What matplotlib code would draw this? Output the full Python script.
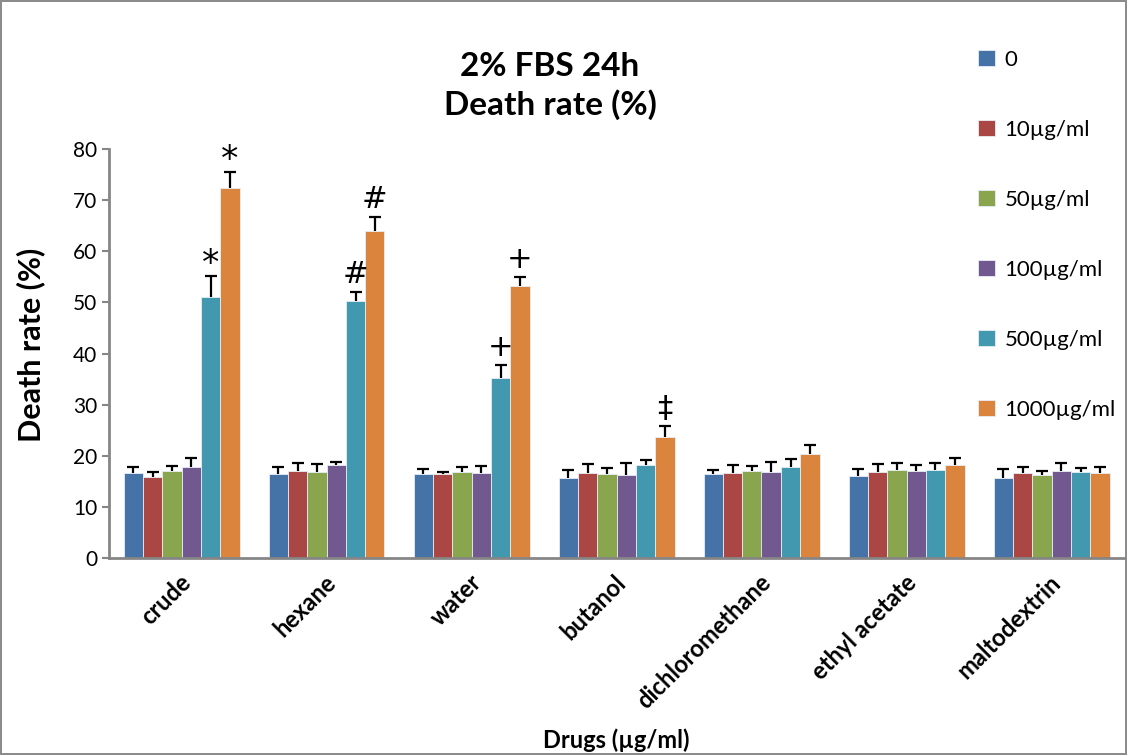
import numpy as np
import matplotlib
matplotlib.use("Agg")
import matplotlib.pyplot as plt

plt.rcParams['font.family'] = ['Lato', 'DejaVu Sans']

# Data
drugs = ["crude", "hexane", "water", "butanol", "dichloromethane", "ethyl acetate", "maltodextrin"]
doses = ["0", "10µg/ml", "50µg/ml", "100µg/ml", "500µg/ml", "1000µg/ml"]
colors = ["#4572A7", "#AA4643", "#89A54E", "#71588F", "#4198AF", "#DB843D"]

# mean death rate (%) per dose, one list per dose, in drug order
dose_0 = [16.6, 16.4, 16.4, 15.7, 16.4, 16.0, 15.7]
dose_10 = [15.8, 17.0, 16.4, 16.6, 16.6, 16.8, 16.6]
dose_50 = [17.0, 16.8, 16.8, 16.4, 17.0, 17.2, 16.2]
dose_100 = [17.8, 18.2, 16.6, 16.2, 16.8, 17.0, 17.0]
dose_500 = [51.1, 50.3, 35.2, 18.2, 17.8, 17.2, 16.8]
dose_1000 = [72.4, 64.0, 53.2, 23.7, 20.3, 18.2, 16.6]

# upper error (SD)
err_0 = [1.2, 1.4, 1.0, 1.5, 0.8, 1.4, 1.7]
err_10 = [1.0, 1.6, 0.4, 1.8, 1.6, 1.6, 1.2]
err_50 = [1.0, 1.6, 1.0, 1.2, 1.0, 1.4, 0.8]
err_100 = [1.8, 0.6, 1.4, 2.4, 2.0, 1.2, 1.6]
err_500 = [4.1, 1.8, 2.6, 1.0, 1.6, 1.4, 0.8]
err_1000 = [3.1, 2.7, 1.8, 2.1, 1.8, 1.4, 1.2]

means = [dose_0, dose_10, dose_50, dose_100, dose_500, dose_1000]
errors = [err_0, err_10, err_50, err_100, err_500, err_1000]

# significance marks: (drug index, dose index, symbol)
marks = [(0, 4, "*"), (0, 5, "*"), (1, 4, "#"), (1, 5, "#"),
         (2, 4, "+"), (2, 5, "+"), (3, 5, "‡")]
# the asterisk glyph sits high in its box, so pull it down a little
mark_gap = {"*": -1.0, "#": 0.6, "+": 0.6, "‡": 0.6}

fig = plt.figure(figsize=(11.27, 7.55), dpi=100)
fig.patch.set_edgecolor("#8c8c8c")
fig.patch.set_linewidth(1.5)
ax = fig.add_axes([109 / 1127, 1 - 558 / 755, (1124 - 109) / 1127, 409 / 755])

x = np.arange(len(drugs))
n = len(doses)
group_w = 0.8
bar_w = group_w / n
for i in range(n):
    pos = x - group_w / 2 + bar_w * (i + 0.5)
    ax.bar(pos, means[i], width=bar_w, color=colors[i], edgecolor="#e8eef5",
           linewidth=0.6, label=doses[i], zorder=2)
    eb = ax.errorbar(pos, means[i], yerr=[np.zeros(len(drugs)), errors[i]], fmt="none",
                     ecolor="black", elinewidth=1.6, capsize=4.5, capthick=1.6, zorder=3)
    # only the upper cap, like the original
    eb[1][0].set_visible(False)

for d, s, sym in marks:
    pos = x[d] - group_w / 2 + bar_w * (s + 0.5)
    top = means[s][d] + errors[s][d]
    size = 25 if sym == "*" else 22
    ax.text(pos, top + mark_gap[sym], sym, ha="center", va="bottom", fontsize=size,
            family="DejaVu Sans", color="black")

ax.set_xlim(-0.5, len(drugs) - 0.5)
ax.set_ylim(0, 80)
ax.set_yticks(np.arange(0, 81, 10))
ax.set_xticks(x + 0.04)
ax.set_xticklabels(drugs, rotation=45, ha="right", va="center",
                   rotation_mode="anchor", fontweight="bold", fontsize=17)
ax.tick_params(axis="x", length=0, pad=15)
ax.tick_params(axis="y", labelsize=15, length=5, width=1.5, color="#868686", direction="out")

for side in ["top", "right"]:
    ax.spines[side].set_visible(False)
for side in ["left", "bottom"]:
    ax.spines[side].set_color("#868686")
    ax.spines[side].set_linewidth(2)

fig.text(31 / 1127, 1 - 345 / 755, "Death rate (%)", ha="center", va="center",
         rotation=90, fontsize=22, fontweight="bold")
fig.text(616 / 1127, 1 - 740 / 755, "Drugs (µg/ml)", ha="center", va="center",
         fontsize=17, fontweight="bold")
fig.text(550 / 1127, 1 - 86 / 755, "2% FBS 24h\nDeath rate (%)", ha="center", va="center",
         fontsize=24, fontweight="bold", linespacing=1.3)

fig.legend(loc="upper left", bbox_to_anchor=(958 / 1127, 1 - 30 / 755), frameon=False,
           fontsize=16, handlelength=0.75, handleheight=0.75, handletextpad=0.45,
           labelspacing=2.25)

fig.savefig("out.png", dpi=100)
